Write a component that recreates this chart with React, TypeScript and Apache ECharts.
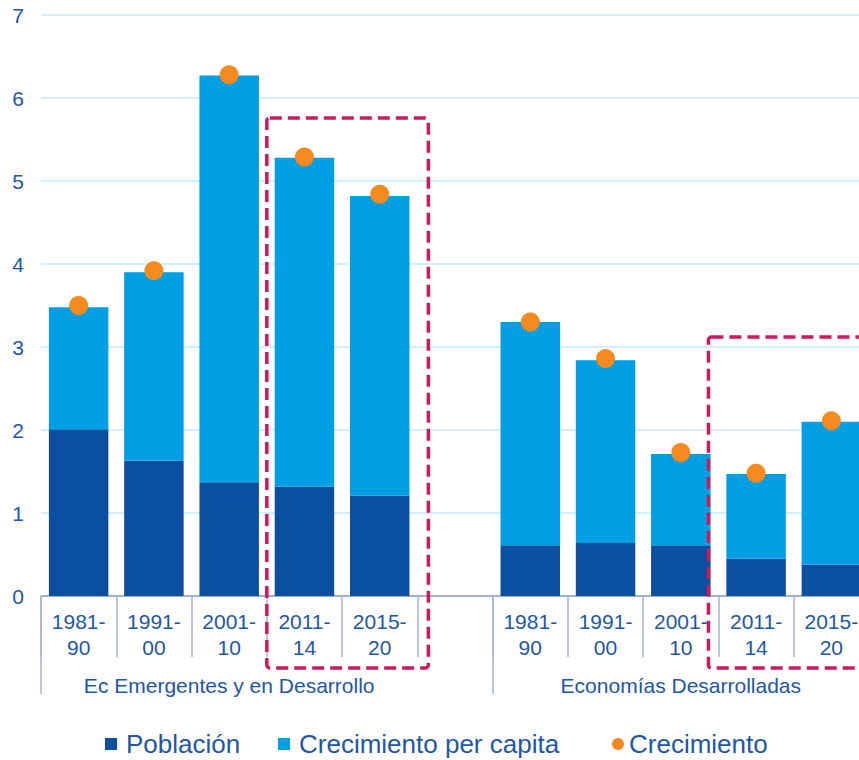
import React, { useEffect, useRef } from "react";
import * as echarts from "echarts";

const categories = [
  "1981-\n90", "1991-\n00", "2001-\n10", "2011-\n14", "2015-\n20",
  "",
  "1981-\n90", "1991-\n00", "2001-\n10", "2011-\n14", "2015-\n20",
];
const groupLabels = [
  "", "", "Ec Emergentes y en Desarrollo", "", "", "", "", "", "Economías Desarrolladas", "", "",
];
const groupStarts = [0, 6];
const poblacion = [2.01, 1.63, 1.37, 1.32, 1.21, "-", 0.61, 0.64, 0.61, 0.45, 0.38];
const perCapita = [1.47, 2.27, 4.9, 3.96, 3.61, "-", 2.69, 2.2, 1.1, 1.02, 1.72];
const crecimiento = [3.5, 3.92, 6.28, 5.29, 4.84, "-", 3.3, 2.86, 1.73, 1.48, 2.11];
const yTicks = { min: 0, max: 7, interval: 1 };
// highlighted periods (first and last category index, top value of the frame)
const highlightFirst = [3, 9];
const highlightLast = [4, 10];
const highlightTop = [5.76, 3.12];

const legendNames = ["Población", "Crecimiento per capita", "Crecimiento"];
const legendIcons = ["rect", "rect", "circle"];
const legendLeft = [105, 278, 612];
const legendTextPad = [4, 4, 0];

const TEXT = "#1E57A4";
const FONT = "'Liberation Sans', Arial, sans-serif";

export default function App() {
  const ref = useRef<HTMLDivElement>(null);
  useEffect(() => {
    if (!ref.current) return;
    const chart = echarts.init(ref.current, undefined, { renderer: "svg" });
    chart.setOption({
      animation: false,
      textStyle: { fontFamily: FONT },
      grid: { left: 41, right: 1, top: 15, bottom: 164, containLabel: false },
      legend: legendNames.map((n, i) => ({
        left: legendLeft[i],
        top: 731,
        padding: 0,
        itemWidth: 12,
        itemHeight: 12,
        textStyle: { fontSize: 26, color: TEXT, fontFamily: FONT, padding: [0, 0, 0, legendTextPad[i]] },
        data: [{ name: n, icon: legendIcons[i] }],
      })),
      xAxis: [
        {
          type: "category",
          data: categories,
          position: "bottom",
          axisLine: { lineStyle: { color: "#8E9CC6", width: 1.5 } },
          axisTick: { show: true, interval: 0, length: 61, lineStyle: { color: "#A7B2D3", width: 1.5 } },
          axisLabel: { interval: 0, color: TEXT, fontSize: 21, lineHeight: 26, margin: 12, fontFamily: FONT },
        },
        {
          type: "category",
          data: groupLabels,
          position: "bottom",
          axisLine: { show: false },
          axisTick: {
            show: true,
            interval: (i: number) => groupStarts.indexOf(i) >= 0,
            length: 98,
            lineStyle: { color: "#A7B2D3", width: 1.5 },
          },
          axisLabel: { interval: 0, color: TEXT, fontSize: 21, lineHeight: 26, margin: 76, fontFamily: FONT },
        },
      ],
      yAxis: {
        type: "value",
        min: yTicks.min,
        max: yTicks.max,
        interval: yTicks.interval,
        axisLine: { show: false },
        axisTick: { show: false },
        axisLabel: { color: TEXT, fontSize: 21, margin: 17, fontFamily: FONT },
        splitLine: { lineStyle: { color: "#C6E9F8", width: 1.5 } },
      },
      series: [
        {
          name: "Población",
          type: "bar",
          stack: "total",
          data: poblacion,
          barCategoryGap: "21%",
          itemStyle: { color: "#0A4FA0" },
        },
        {
          name: "Crecimiento per capita",
          type: "bar",
          stack: "total",
          data: perCapita,
          barCategoryGap: "21%",
          itemStyle: { color: "#009FE3" },
        },
        {
          name: "Crecimiento",
          type: "scatter",
          data: crecimiento,
          symbol: "circle",
          symbolSize: 19,
          itemStyle: { color: "#F58A1F", opacity: 1 },
          z: 5,
        },
      ],
    });

    const p0 = chart.convertToPixel({ xAxisIndex: 0, yAxisIndex: 0 }, [0, 0]) as number[];
    const p1 = chart.convertToPixel({ xAxisIndex: 0, yAxisIndex: 0 }, [1, 0]) as number[];
    const band = p1[0] - p0[0];
    const leftPad = [0, -10];
    const rightPad = 11;
    const belowAxis = 72;
    const rects = highlightFirst.map((f, i) => {
      const a = chart.convertToPixel({ xAxisIndex: 0, yAxisIndex: 0 }, [f, highlightTop[i]]) as number[];
      const b = chart.convertToPixel({ xAxisIndex: 0, yAxisIndex: 0 }, [highlightLast[i], 0]) as number[];
      const x0 = a[0] - band / 2 + leftPad[i];
      const x1 = b[0] + band / 2 + rightPad;
      const y0 = a[1];
      const y1 = b[1] + belowAxis;
      return {
        type: "rect",
        z: 100,
        shape: { x: x0, y: y0, width: x1 - x0, height: y1 - y0, r: 3 },
        style: { fill: "none", stroke: "#CD1A5E", lineWidth: 3.5, lineDash: [12, 6] },
      };
    });
    chart.setOption({ graphic: rects });

    return () => chart.dispose();
  }, []);
  return (
    <div style={{ position: "absolute", left: 0, top: 0, width: 859, height: 760, overflow: "hidden" }}>
      <div ref={ref} style={{ width: 870, height: 760 }} />
    </div>
  );
}
